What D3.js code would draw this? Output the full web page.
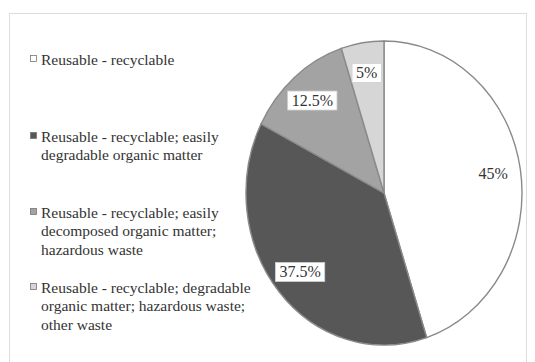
<!DOCTYPE html>
<html><head><meta charset="utf-8">
<script src="https://cdn.jsdelivr.net/npm/d3@7/dist/d3.min.js"></script>
<style>body{margin:0;background:#fff}svg{display:block}</style>
</head><body>
<svg id="c" width="535" height="362"></svg>
<script>
const categories = [
  ["Reusable - recyclable"],
  ["Reusable - recyclable; easily", "degradable organic matter"],
  ["Reusable - recyclable; easily", "decomposed organic matter;", "hazardous waste"],
  ["Reusable - recyclable; degradable", "organic matter; hazardous waste;", "other waste"]
];
const values = [45, 37.5, 12.5, 5];
const labels = ["45%", "37.5%", "12.5%", "5%"];
const colors = ["#ffffff", "#575757", "#a3a3a3", "#d6d6d6"];

const FONT = "Liberation Serif";
const svg = d3.select("#c");

// frame
svg.append("rect").attr("x", 9.5).attr("y", 13.5).attr("width", 517).attr("height", 350)
  .attr("fill", "#fff").attr("stroke", "#dcdcdc").attr("stroke-width", 1);

// pie
const cx = 384, cy = 193, rx = 138, ry = 152;
const pie = d3.pie().sort(null).value(d => d)(values);
const R = 100;
const arc = d3.arc().innerRadius(0).outerRadius(R);
const g = svg.append("g").attr("transform", `translate(${cx},${cy})`);
const gs = g.append("g").attr("transform", `scale(${rx / R},${ry / R})`);
gs.selectAll("path").data(pie).join("path")
  .attr("d", arc)
  .attr("fill", (d, i) => colors[i])
  .attr("stroke", "#8a8a8a")
  .attr("stroke-width", 1.4)
  .attr("vector-effect", "non-scaling-stroke");

// labels
const k = 0.8;
pie.forEach((d, i) => {
  const a = (d.startAngle + d.endAngle) / 2;
  const x = Math.sin(a) * rx * k, y = -Math.cos(a) * ry * k;
  const t = g.append("text").attr("x", x).attr("y", y)
    .attr("text-anchor", "middle").attr("dominant-baseline", "central")
    .style("font-family", FONT).style("font-size", "16px").attr("fill", "#333")
    .text(labels[i]);
  const bb = t.node().getBBox();
  g.insert("rect", "text").attr("x", bb.x - 4).attr("y", bb.y - 1)
    .attr("width", bb.width + 8).attr("height", bb.height + 2)
    .attr("fill", "#fff").attr("stroke", i === 0 ? "none" : "#cfcfcf").attr("stroke-width", 0.8);
  t.raise();
});

// legend
const legY = [59, 136, 212, 287];
const lineH = 18.5;
const lg = svg.append("g");
categories.forEach((lines, i) => {
  lg.append("rect").attr("x", 30.5).attr("y", legY[i] - 3.5).attr("width", 6).attr("height", 6)
    .attr("fill", colors[i]).attr("stroke", "#777").attr("stroke-width", 0.8);
  const t = lg.append("text").style("font-family", FONT).style("font-size", "15.5px").attr("fill", "#333");
  lines.forEach((s, j) => {
    t.append("tspan").attr("x", 41).attr("y", legY[i] + j * lineH)
      .attr("dominant-baseline", "central").text(s);
  });
});
</script>
</body></html>
